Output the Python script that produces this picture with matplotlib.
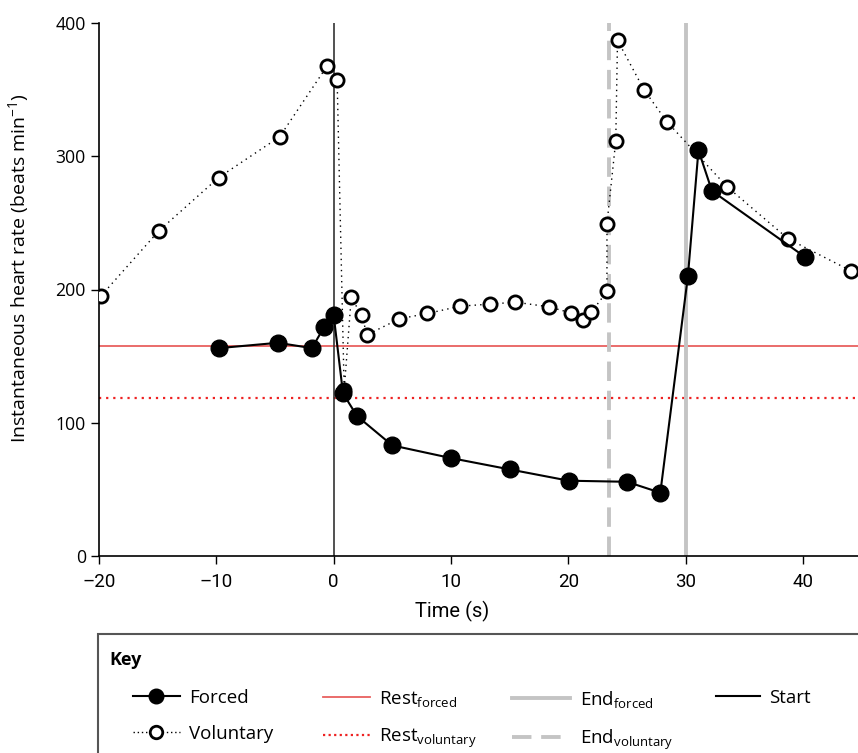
import numpy as np
import matplotlib
matplotlib.use("Agg")
import matplotlib.pyplot as plt
from matplotlib.lines import Line2D
from matplotlib.patches import Rectangle

plt.rcParams['font.family'] = ['Open Sans', 'DejaVu Sans']
plt.rcParams['mathtext.fontset'] = 'custom'
plt.rcParams['mathtext.rm'] = 'Open Sans'
plt.rcParams['mathtext.it'] = 'Open Sans'

# forced dive (filled circles)
forced_t = [-9.8, -4.75, -1.85, -0.8, 0.0, 0.8, 2.0, 5.0, 10.0, 15.0, 20.05, 25.0,
            27.85, 30.2, 31.1, 32.25, 40.2]
forced_hr = [156, 160, 156, 172, 181, 122, 105, 83, 73.5, 65, 56.5, 55.7,
             47.5, 210, 304.5, 274, 224.3]

# voluntary dive (open circles)
vol_t = [-19.85, -14.9, -9.8, -4.6, -0.55, 0.3, 0.9, 1.5, 2.4, 2.85, 5.6, 8.0,
         10.8, 13.3, 15.5, 18.35, 20.2, 21.3, 21.95, 23.3, 23.3, 24.05, 24.2,
         26.45, 28.4, 33.55, 38.75, 44.1]
vol_hr = [195, 244, 284, 314.6, 367.8, 357, 124.5, 194, 180.5, 166, 178, 182,
          187.5, 189, 190.5, 187, 182.5, 177, 182.8, 198.5, 249.3, 311.5, 387,
          350, 326, 277, 238, 214]

rest_forced = 157.5
rest_voluntary = 118.8
end_forced = 30.0
end_voluntary = 23.5
start_t = 0

fig = plt.figure(figsize=(8.58, 7.53), dpi=100)
ax = fig.add_axes([99 / 858, 197 / 753, 1 - 99 / 858, (556 - 23) / 753])

ax.axhline(rest_forced, color='#e8605f', lw=1.3, zorder=1)
ax.axhline(rest_voluntary, color='#ee2222', lw=1.6, ls=(0, (1, 2.2)), zorder=1)
ax.axvline(end_voluntary, color='#c4c4c4', lw=2.8, ls=(0, (5, 2.5)), zorder=1)
ax.axvline(end_forced, color='#c4c4c4', lw=2.8, zorder=1)
ax.axvline(start_t, color='#333333', lw=1.2, zorder=1)

ax.plot(vol_t, vol_hr, color='black', lw=1, ls=(0, (1, 3)), marker='o',
        markersize=9.5, markerfacecolor='white', markeredgecolor='black',
        markeredgewidth=2, zorder=3)
ax.plot(forced_t, forced_hr, color='black', lw=1.5, marker='o',
        markersize=12, markerfacecolor='black', markeredgecolor='black', zorder=4)

ax.set_xlim(-20, 44.7)
ax.set_ylim(0, 400)
ax.set_xticks([-20, -10, 0, 10, 20, 30, 40])
ax.set_xticklabels(['\u201320', '\u201310', '0', '10', '20', '30', '40'],
                   family=['Roboto', 'DejaVu Sans'], fontsize=13.5)
ax.set_yticks([0, 100, 200, 300, 400])
ax.tick_params(axis='y', labelsize=12.7, direction='out', length=6, width=1)
ax.tick_params(axis='x', direction='out', length=6, width=1, pad=6)
for side in ['top', 'right']:
    ax.spines[side].set_visible(False)
ax.spines['left'].set_linewidth(1.2)
ax.spines['bottom'].set_linewidth(1.2)

ax.set_xlabel('Time (s)', family=['Roboto', 'DejaVu Sans'], fontsize=14.5)
ax.xaxis.set_label_coords((452 - 99) / 759, (556 - 601) / 533)
ax.set_ylabel('Instantaneous heart rate (beats min$^{\u22121}$)', fontsize=14)
ax.yaxis.set_label_coords((31 - 99) / 759, (556 - 268) / 533)

# key box
fig.patches.append(Rectangle((98 / 858, -0.01), 1.0, (753 - 634) / 753 + 0.01,
                             transform=fig.transFigure, fill=False,
                             edgecolor='#555555', lw=1.5))
fig.text(109 / 858, 1 - 660 / 753, 'Key', fontsize=13, fontweight='bold', va='center')

columns = [
    ([Line2D([], [], color='black', lw=1.5, marker='o', markersize=10.5,
             markerfacecolor='black'),
      Line2D([], [], color='black', lw=1, ls=(0, (1, 2)), marker='o', markersize=9,
             markerfacecolor='white', markeredgewidth=2)],
     ['Forced', 'Voluntary'], 133, 2.5),
    ([Line2D([], [], color='#e8605f', lw=1.3),
      Line2D([], [], color='#ee2222', lw=1.6, ls=(0, (1, 1.5)))],
     ['Rest$_{\\mathrm{forced}}$', 'Rest$_{\\mathrm{voluntary}}$'], 323, 2.5),
    ([Line2D([], [], color='#c4c4c4', lw=2.8),
      Line2D([], [], color='#c4c4c4', lw=2.8, ls=(0, (5, 2.5)))],
     ['End$_{\\mathrm{forced}}$', 'End$_{\\mathrm{voluntary}}$'], 512, 3.1),
    ([Line2D([], [], color='black', lw=1.5)], ['Start'], 716, 2.35),
]
for handles, labels, x0, hl in columns:
    fig.legend(handles, labels, loc='upper left',
               bbox_to_anchor=(x0 / 858, 1 - 689 / 753),
               frameon=False, fontsize=13.5, handlelength=hl, handletextpad=0.5,
               labelspacing=0.95, borderpad=0, borderaxespad=0)

fig.savefig('out.png', dpi=100)
